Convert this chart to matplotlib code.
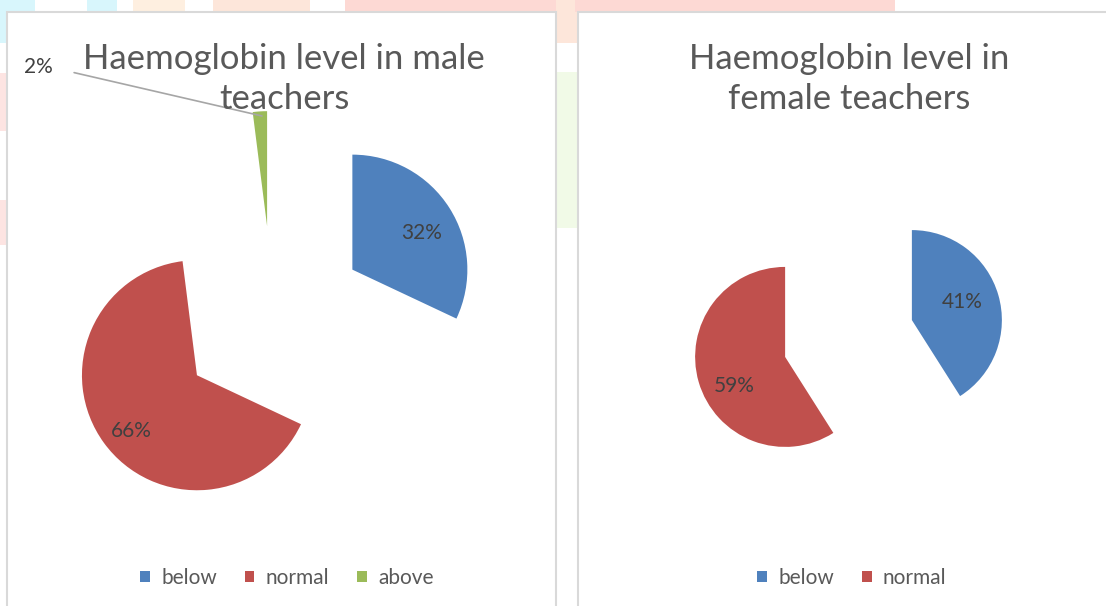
import matplotlib
matplotlib.use("Agg")
import matplotlib.pyplot as plt
from matplotlib.patches import Rectangle

plt.rcParams['font.family'] = ['Lato', 'DejaVu Sans']

# data
categories_male = ['below', 'normal', 'above']
values_male = [32, 66, 2]
categories_female = ['below', 'normal']
values_female = [41, 59]
colors = ['#4F81BD', '#C0504D', '#9BBB59']
title_male = 'Haemoglobin level in male\nteachers'
title_female = 'Haemoglobin level in\nfemale teachers'

W, H = 1106, 606
fig = plt.figure(figsize=(W / 100, H / 100), dpi=100)
ax = fig.add_axes([0, 0, 1, 1])

def py(y):
    # pixel row (top down) -> data y
    return H - y

# faint watermark behind the charts
bg = [
    (0, 0, 35, 43, '#d8f6fc'), (87, 0, 30, 12, '#d8f6fc'),
    (133, 0, 52, 12, '#feefe0'), (213, 0, 62, 12, '#fde6da'),
    (275, 0, 35, 12, '#fde6da'), (345, 0, 230, 12, '#fdd9d4'),
    (556, 0, 22, 43, '#fde6da'), (556, 72, 22, 156, '#f1fae7'),
    (0, 73, 7, 58, '#fde4e2'), (0, 200, 7, 45, '#fde4e2'),
    (575, 0, 320, 12, '#fdd9d4'),
]
for x0, y0, w, h, c in bg:
    ax.add_patch(Rectangle((x0, py(y0 + h)), w, h, facecolor=c, edgecolor='none', zorder=0))

# chart panels
ax.add_patch(Rectangle((7, py(612)), 549, 600, facecolor='white', edgecolor='#d9d9d9', lw=1.5, zorder=1))
ax.add_patch(Rectangle((578, py(612)), 540, 600, facecolor='white', edgecolor='#d9d9d9', lw=1.5, zorder=1))

def fmt(p):
    return '%1.0f%%' % p if p >= 5 else ''

txt = dict(color='#404040', fontsize=15)

# male pie
r1 = 115
w1, _, a1 = ax.pie(values_male, colors=colors, center=(273, py(320)), radius=r1,
                   explode=[94, 94, 94], startangle=90, counterclock=False,
                   autopct=fmt, pctdistance=0.71, textprops=txt,
                   wedgeprops=dict(linewidth=0, zorder=2))
for t, dy in zip(a1, [-7, -8, 0]):
    t.set_y(t.get_position()[1] + dy)
ax.annotate('%d%%' % values_male[2], xy=(262, py(116)), xytext=(38, py(67)),
            ha='center', va='center', color='#404040', fontsize=15,
            arrowprops=dict(arrowstyle='-', color='#a6a6a6', lw=1.2,
                            connectionstyle='angle,angleA=0,angleB=167,rad=0',
                            shrinkA=14, shrinkB=0))

# female pie
r2 = 90
w2, _, a2 = ax.pie(values_female, colors=colors[:2], center=(848.5, py(338.5)), radius=r2,
                   explode=[66, 66], startangle=90, counterclock=False,
                   autopct=fmt, pctdistance=0.62, textprops=txt,
                   wedgeprops=dict(linewidth=0, zorder=2))
for t, dx, dy in zip(a2, [-3, 3], [3, -14]):
    x, y = t.get_position()
    t.set_position((x + dx, y + dy))

ax.text(284, py(79), title_male, ha='center', va='center', fontsize=25,
        color='#595959', linespacing=1.32)
ax.text(849, py(79), title_female, ha='center', va='center', fontsize=25,
        color='#595959', linespacing=1.32)

lg_kw = dict(frameon=False, ncol=3, fontsize=15, handlelength=0.45, handleheight=0.45,
             handletextpad=0.55, columnspacing=1.35, labelcolor='#595959',
             loc='center')
leg1 = ax.legend(w1, categories_male, bbox_to_anchor=(287, py(578)),
                 bbox_transform=ax.transData, **lg_kw)
ax.add_artist(leg1)
ax.legend(w2, categories_female, bbox_to_anchor=(852, py(578)),
          bbox_transform=ax.transData, **lg_kw)

ax.set_xlim(0, W)
ax.set_ylim(0, H)
ax.set_aspect('equal')
ax.axis('off')

fig.savefig('out.png', dpi=100)
